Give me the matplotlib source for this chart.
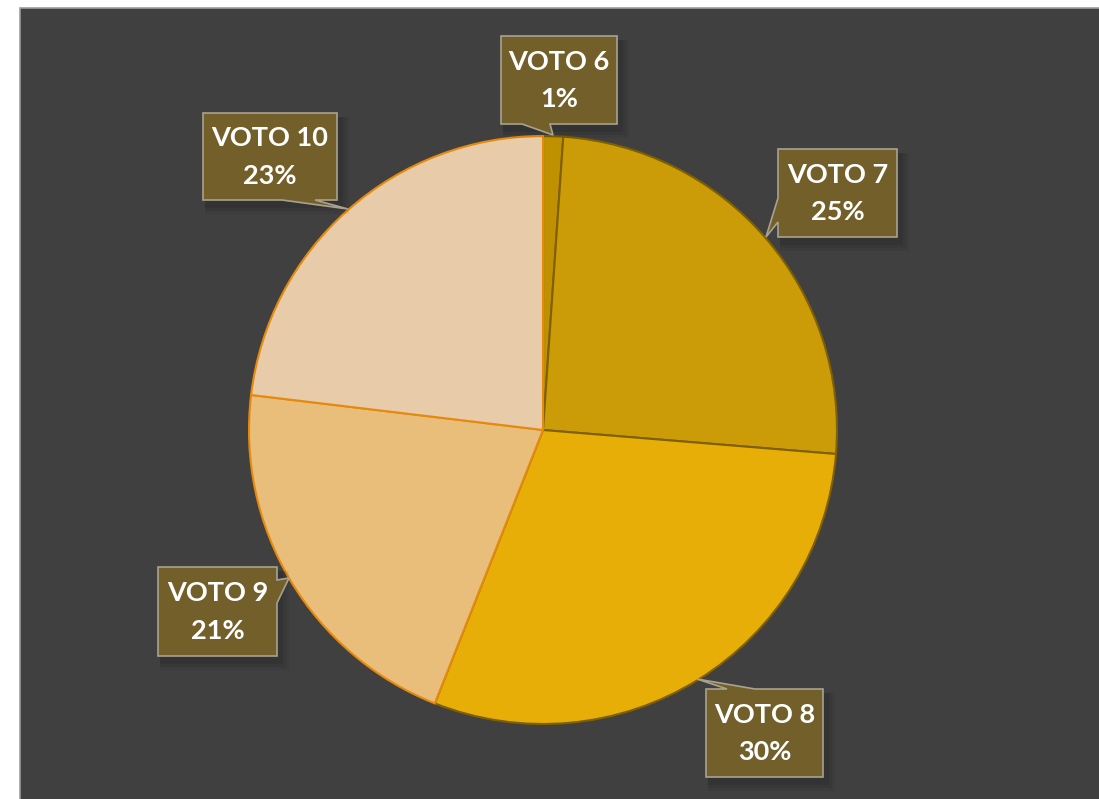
import matplotlib.pyplot as plt
from matplotlib.patches import Rectangle, Polygon

categories = ['VOTO 6', 'VOTO 7', 'VOTO 8', 'VOTO 9', 'VOTO 10']
values = [1.1, 25.2, 29.7, 20.9, 23.1]
colors = ['#BF9000', '#CC9C08', '#E8AE08', '#E8BE7A', '#E8CBA8']
edges = ['#7F6000', '#7F6000', '#7F6000', '#E58A0E', '#E58A0E']

# label boxes in pixel coords: (left, top, right, bottom), pointer base pts, tip
boxes = [
    ((501, 36, 617, 124), [(550, 124), (522, 124)], (553, 135)),
    ((778, 149, 897, 237), [(778, 198), (778, 222)], (766, 237)),
    ((706, 689, 823, 777), [(727, 689), (755, 689)], (697, 679)),
    ((158, 567, 277, 656), [(277, 580), (277, 603)], (289, 578)),
    ((203, 113, 337, 200), [(315, 200), (282, 200)], (348, 209)),
]

W, H = 1099, 799
fig = plt.figure(figsize=(W / 100, H / 100), dpi=100)
fig.patch.set_facecolor('white')
ax = fig.add_axes([0, 0, 1, 1])

ax.add_patch(Rectangle((20, 8), W, H, facecolor='#404040', edgecolor='#9C9C9C', lw=1.2, zorder=0))

wedges, _ = ax.pie(values, colors=colors, radius=294, center=(543, 430),
                   startangle=-90, counterclock=True,
                   wedgeprops=dict(linewidth=1.5))
for w, ec in zip(wedges, edges):
    w.set_edgecolor(ec)
    w.set_zorder(2)
for w in wedges[3:]:
    w.set_zorder(3)

total = sum(values)


def box_outline(box, base, tip):
    l, t, r, b = box
    pts = []
    sides = [((l, t), (r, t)), ((r, t), (r, b)), ((r, b), (l, b)), ((l, b), (l, t))]
    for p0, p1 in sides:
        pts.append(p0)
        on = lambda p: (p0[0] == p1[0] == p[0]) or (p0[1] == p1[1] == p[1])
        if on(base[0]) and on(base[1]):
            d = (p1[0] - p0[0], p1[1] - p0[1])
            a, c = sorted(base, key=lambda p: (p[0] - p0[0]) * d[0] + (p[1] - p0[1]) * d[1])
            pts += [a, tip, c]
    return pts


for cat, v, (box, base, tip) in zip(categories, values, boxes):
    l, t, r, b = box
    for k, a in [(10, 0.05), (7, 0.06), (4, 0.08)]:
        ax.add_patch(Rectangle((l + 2, t + 4), r - l + k, b - t + k, facecolor='black',
                               edgecolor='none', alpha=a, zorder=4))
    ax.add_patch(Polygon(box_outline(box, base, tip), closed=True, facecolor='#735F2A',
                         edgecolor='#A8A290', lw=1.2, zorder=5))
    cx = (l + r) / 2
    ax.text(cx, t + (b - t) * 0.29, cat, ha='center', va='center', color='white',
            fontsize=19.5, fontweight='bold', family='Lato', zorder=6)
    ax.text(cx, t + (b - t) * 0.72, f'{round(v / total * 100)}%', ha='center', va='center',
            color='white', fontsize=19.5, fontweight='bold', family='Lato', zorder=6)

ax.set_xlim(0, W)
ax.set_ylim(H, 0)
ax.set_axis_off()

plt.savefig('out.png', dpi=100, facecolor='white')
